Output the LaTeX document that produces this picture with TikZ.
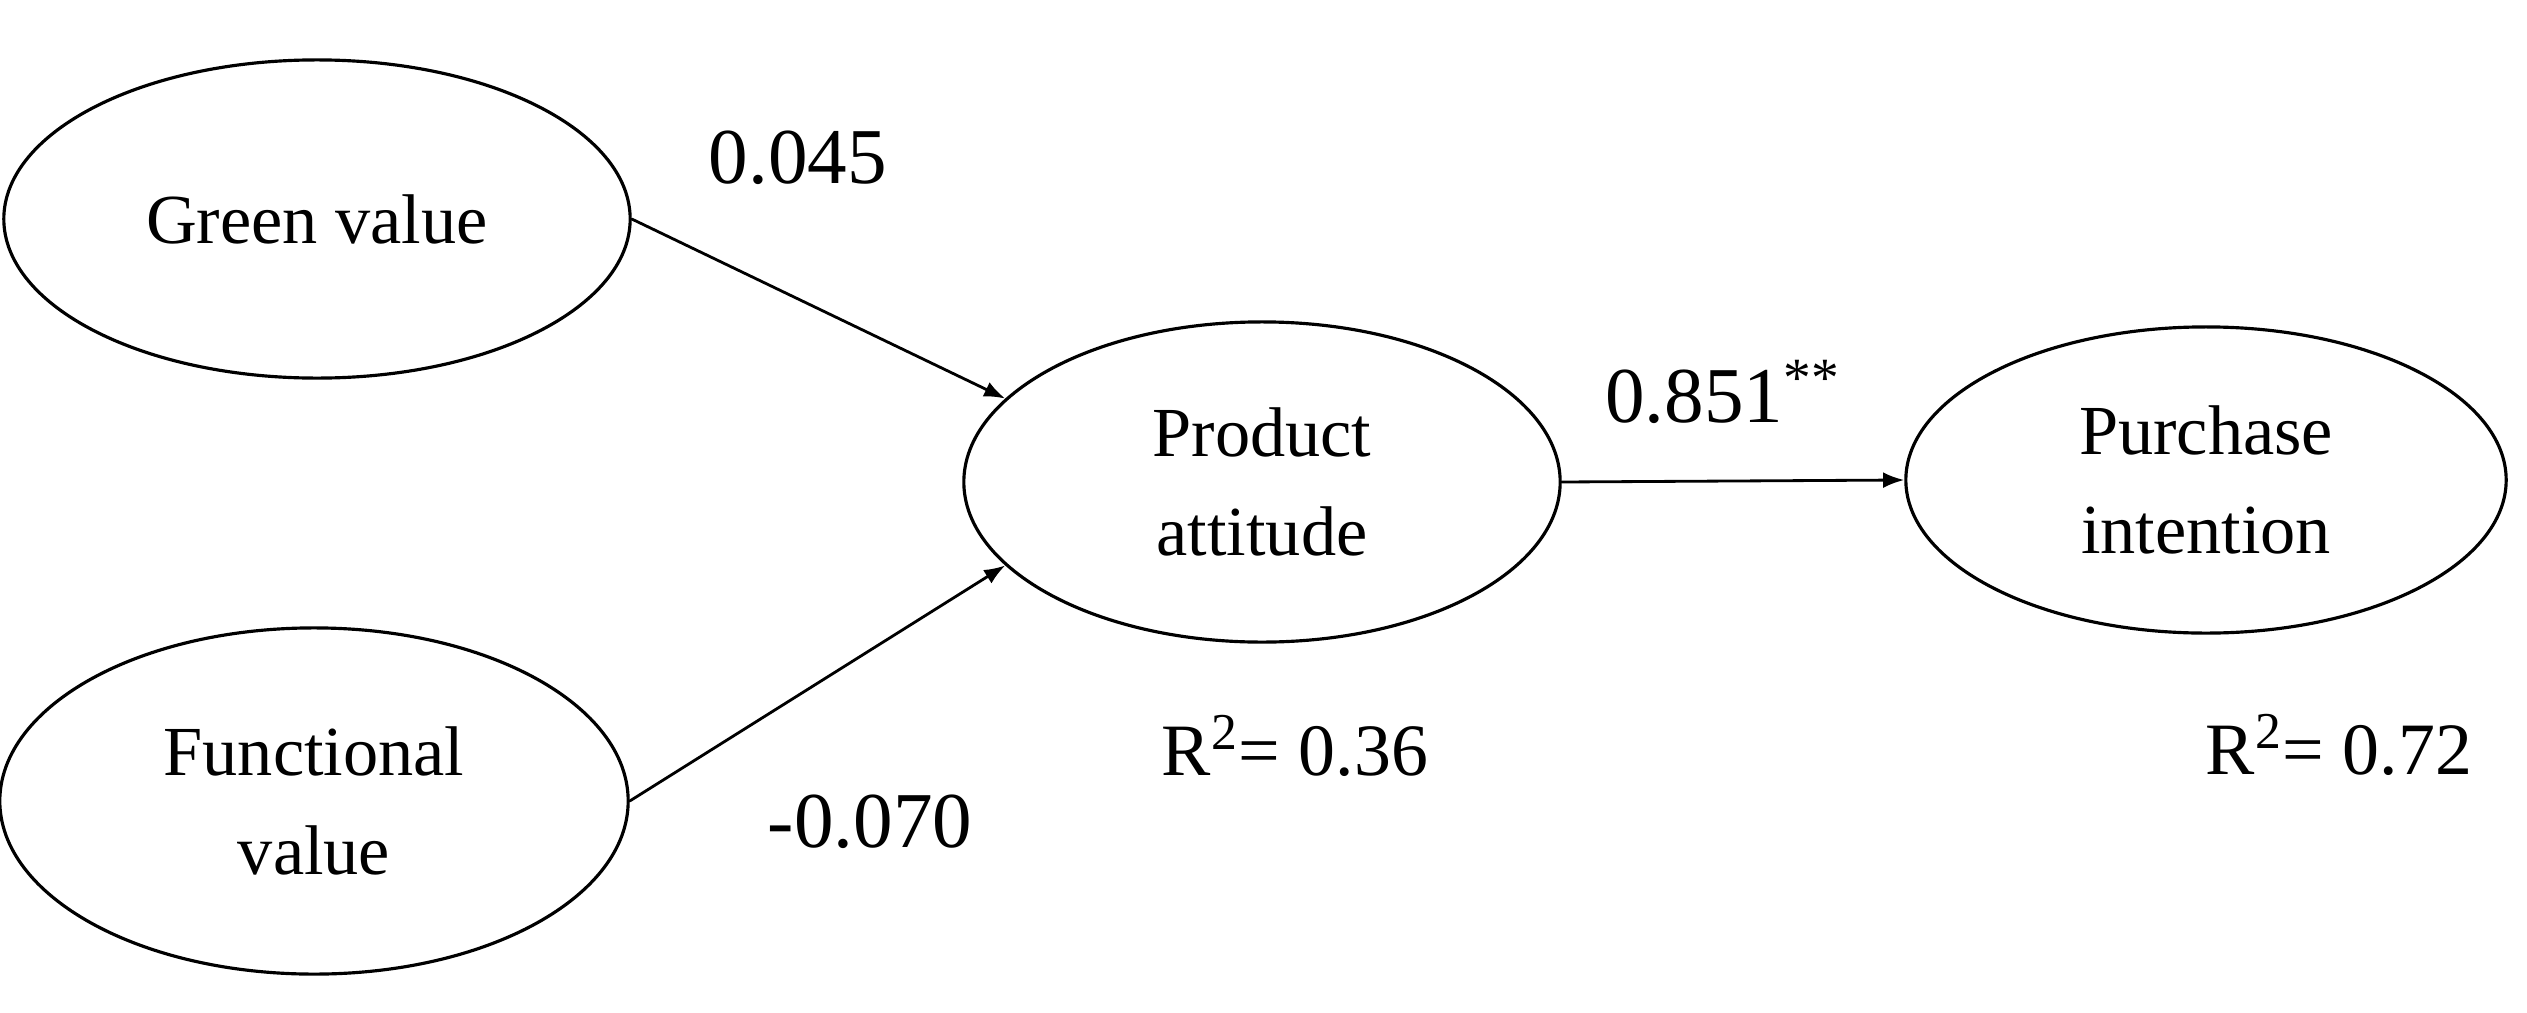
\documentclass[tikz,border=0pt]{standalone}
\usepackage{fontspec}
\setmainfont{Liberation Serif}
\usetikzlibrary{shapes.geometric,arrows.meta}
\begin{document}
\begin{tikzpicture}[x=0.01cm,y=-0.01cm,
  latent/.style={draw, ellipse, line width=0.9pt, inner sep=0pt, align=center,
    font=\fontsize{20}{28}\selectfont},
  coef/.style={inner sep=0pt, font=\fontsize{22.5}{27}\selectfont},
  rsq/.style={inner sep=0pt, font=\fontsize{21}{25}\selectfont},
  pathar/.style={-{Latex[length=6pt,width=4.5pt]}, line width=0.8pt}]
\useasboundingbox (0,0) rectangle (2527,1012);
\node[latent, minimum width=6.26cm, minimum height=3.18cm] (gv) at (317,219) {Green value};
\node[latent, minimum width=6.28cm, minimum height=3.46cm] (fv) at (314,801) {Functional\\value};
\node[latent, minimum width=5.96cm, minimum height=3.20cm] (pa) at (1262,482) {Product\\attitude};
\node[latent, minimum width=6.00cm, minimum height=3.06cm] (pi) at (2206,480) {Purchase\\intention};
\draw[pathar] (gv.east) -- (pa.162);
\draw[pathar] (fv.east) -- (pa.198);
\draw[pathar] (pa.east) -- (pi.west);
\node[coef] (l1) at (798,158) {0.045};
\node[coef] (l2) at (870,822) {-0.070};
\node[coef] (l3) at (1723,392) {0.851\textsuperscript{**}};
\node[rsq] (r1) at (1295,746) {R\textsuperscript{2}= 0.36};
\node[rsq] (r2) at (2339,745) {R\textsuperscript{2}= 0.72};
\end{tikzpicture}
\end{document}
